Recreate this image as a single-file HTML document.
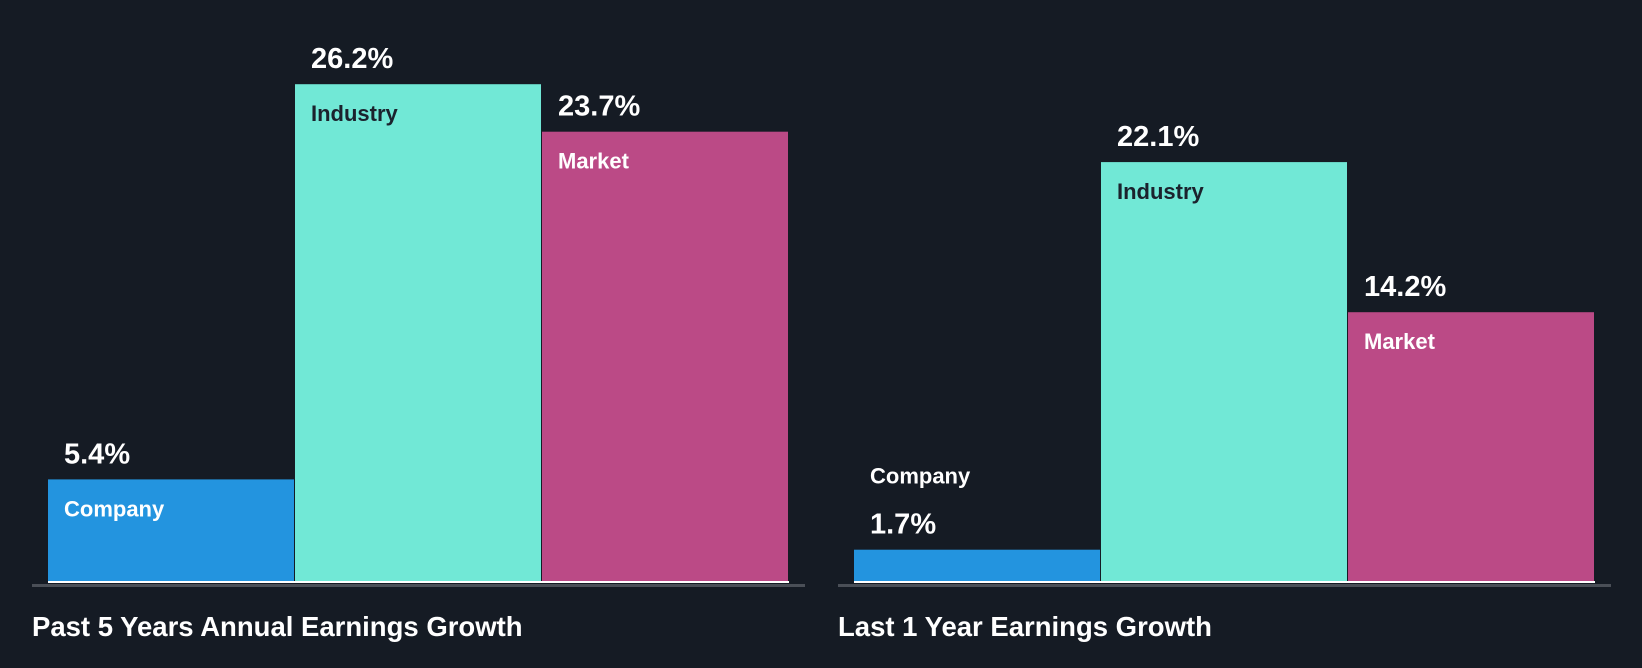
<!DOCTYPE html>
<html><head><meta charset="utf-8"><style>
html,body{margin:0;padding:0;background:#151b24;}
svg{display:block;font-family:"Liberation Sans",Arial,sans-serif;font-weight:bold;}
</style></head><body>
<svg id="chart" width="1642" height="668" viewBox="0 0 1642 668" xmlns="http://www.w3.org/2000/svg">
<rect width="1642" height="668" fill="#151b24"/>
<g id="marks"></g>
</svg>
<script>
const panelTitles = ["Past 5 Years Annual Earnings Growth", "Last 1 Year Earnings Growth"];
const categories = ["Company", "Industry", "Market"];
const past5Values = [5.4, 26.2, 23.7];
const last1Values = [1.7, 22.1, 14.2];

const NS = "http://www.w3.org/2000/svg";
const g = document.getElementById("marks");
const baseY = 582, pxPerPct = 19;
const colors = ["#2394df", "#71e8d6", "#bb4a86"];
const nameColors = ["#ffffff", "#1b222d", "#ffffff"];
const panels = [{x0: 48, axisX: 32, values: past5Values}, {x0: 854, axisX: 838, values: last1Values}];
const barW = 247;
function yScale(v){ return baseY - v * pxPerPct; }
function mk(tag, attrs){ const e = document.createElementNS(NS, tag); for (const k in attrs) e.setAttribute(k, attrs[k]); g.appendChild(e); return e; }

panels.forEach((p, pi) => {
  const axis = mk("rect", {x: p.axisX, y: 584, width: 773, height: 3, fill: "#4a4f57"});
  
  
  p.values.forEach((v, i) => {
    const x = p.x0 + i * barW;
    const top = yScale(v);
    const bar = mk("rect", {x: x, y: top, width: barW - 1, height: baseY - top, fill: colors[i]});
    
    
    const base = mk("rect", {x: x, y: baseY - 1, width: barW, height: 2, fill: "#ffffff"});
    
    
    const small = (baseY - top) < 60;
    const valY = top - 16;
    const val = mk("text", {x: x + 16, y: valY, fill: "#ffffff", "font-size": 29});
    val.textContent = v.toFixed(1) + "%";
    
    
    const nm = mk("text", {x: x + 16, y: small ? valY - 50 : top + 37, fill: small ? "#ffffff" : nameColors[i], "font-size": 22});
    nm.textContent = categories[i];
    
    
  });
  const t = mk("text", {x: p.axisX, y: 636, fill: "#ffffff", "font-size": 27.5});
  t.textContent = panelTitles[pi];
  
  
});
</script>
</body></html>
